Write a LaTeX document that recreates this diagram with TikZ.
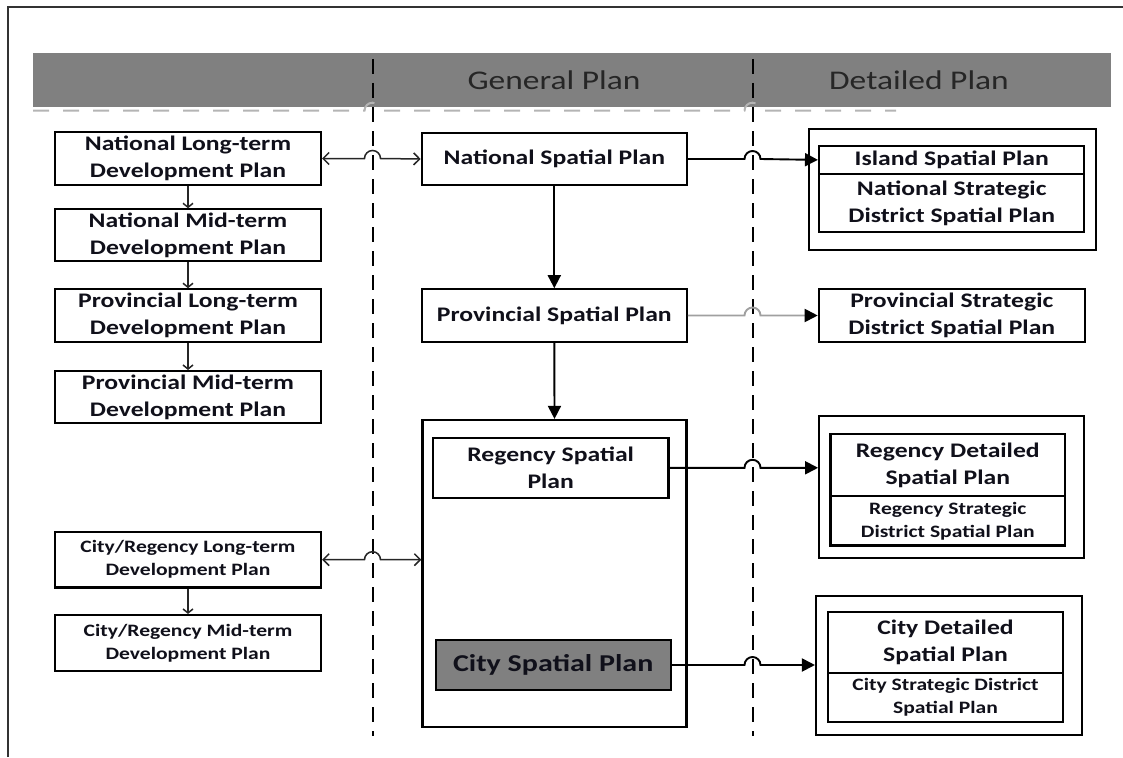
\documentclass[tikz,border=0pt]{standalone}
\usepackage{fontspec}
\setmainfont{Carlito}[FakeStretch=1.24]
\usetikzlibrary{arrows.meta,calc}

\definecolor{bandgray}{HTML}{808080}
\definecolor{headtext}{HTML}{262626}
\definecolor{inkdark}{HTML}{10101A}
\definecolor{lightline}{HTML}{A0A0A0}
\definecolor{dashgray}{HTML}{B4B4B4}

\newcommand{\boxfont}{\bfseries\fontsize{20.7}{27}\selectfont}
\newcommand{\smallboxfont}{\bfseries\fontsize{17.4}{23}\selectfont}
\newcommand{\bigboxfont}{\bfseries\fontsize{24.2}{29}\selectfont}
\newcommand{\headfont}{\fontsize{27}{32}\selectfont}

\tikzset{
  planbox/.style 2 args={draw=black, line width=2.2pt, fill=white, inner sep=0pt,
    align=center, font=\boxfont, text=inkdark, minimum width=#1, minimum height=#2},
  holder/.style 2 args={draw=black, line width=2.2pt, inner sep=0pt,
    minimum width=#1, minimum height=#2},
  headlabel/.style={font=\headfont, text=headtext},
  sepline/.style={line width=2pt, dash pattern=on 15pt off 9pt},
  sepgray/.style={dashgray, line width=2pt, dash pattern=on 16pt off 14pt},
  frameline/.style={line width=1.6pt, black!80},
  % arrows
  link/.style={line width=1.5pt, black!85, {Straight Barb[length=6pt,width=12pt]}-{Straight Barb[length=6pt,width=12pt]}},
  down/.style={line width=1.5pt, black!85, -{Straight Barb[length=4pt,width=10pt]}},
  feed/.style={line width=1.9pt, -{Triangle[length=13pt,width=13pt,black]}},
  hopover/.style={to path={-- ([xshift=-8pt]\tikztostart -| #1) arc[start angle=180,end angle=0,radius=8pt] -- (\tikztotarget)}}
}

\begin{document}
\begin{tikzpicture}[x=1pt,y=-1pt]
  \useasboundingbox (0,0) rectangle (1123,757);
  \draw[frameline] (8,757) -- (8,7) -- (1123,7); %ramme

  % header band
  \fill[bandgray] (33,53) rectangle (1111,106.7);
  \node[headlabel] (general) at (554,80) {General Plan};
  \node[headlabel] (detailed) at (919,80) {Detailed Plan};
  \draw[sepgray] (33,110.7) -- (364.5,110.7) arc[start angle=180,end angle=0,radius=8pt]
    -- (744.5,110.7) arc[start angle=180,end angle=0,radius=8pt] -- (896,110.7);

  % column separators
  \coordinate (v1) at (372.5,59);
  \coordinate (v2) at (752.5,59);
  \draw[sepline] (v1) -- (372.5,736);
  \draw[sepline] (v2) -- (752.5,736);

  % development plans
  \node[planbox={266pt}{52.3pt}] (nltdp) at (188,158.5) {National Long-term\\Development Plan};
  \node[planbox={266pt}{51.7pt}] (nmtdp) at (188,235.2) {National Mid-term\\Development Plan};
  \node[planbox={266pt}{52.4pt}] (pltdp) at (188,315.5) {Provincial Long-term\\Development Plan};
  \node[planbox={266pt}{52.3pt}] (pmtdp) at (188,397.2) {Provincial Mid-term\\Development Plan};
  \node[planbox={266pt}{55.5pt},font=\smallboxfont] (crltdp) at (188,559.7) {City/Regency Long-term\\Development Plan};
  \node[planbox={266pt}{56pt},font=\smallboxfont] (crmtdp) at (188,643) {City/Regency Mid-term\\Development Plan};

  % general plans
  \node[planbox={265pt}{52.5pt}] (nsp) at (554.3,159) {National Spatial Plan};
  \node[planbox={265pt}{52.4pt}] (psp) at (554.3,315.5) {Provincial Spatial Plan};
  \node[holder={264pt}{307pt}] (regbox) at (554.5,573.5) {};
  \node[planbox={235.4pt}{60.3pt}] (rsp) at (550.7,467.8) {Regency Spatial\\Plan};
  \node[planbox={235pt}{49.5pt},fill=bandgray,font=\bigboxfont] (csp) at (553.2,665) {City Spatial Plan};

  % detailed plans
  \node[holder={287.3pt}{120.7pt}] (islandbox) at (952.6,189.7) {};
  \node[planbox={265.3pt}{28.3pt}] (isp) at (951.7,159.9) {Island Spatial Plan};
  \node[planbox={265.3pt}{57.7pt}] (nsdsp) at (951.7,202.85) {National Strategic\\District Spatial Plan};
  \node[planbox={266pt}{52.4pt}] (psdsp) at (951.8,315.5) {Provincial Strategic\\District Spatial Plan};
  \node[holder={265pt}{141.8pt}] (regouter) at (951.7,487.1) {};
  \node[planbox={234.8pt}{62.2pt}] (rdsp) at (947.8,465.1) {Regency Detailed\\Spatial Plan};
  \node[planbox={234.8pt}{49.2pt},font=\smallboxfont] (rsdsp) at (947.8,520.8) {Regency Strategic\\District Spatial Plan};
  \node[holder={265.7pt}{139.3pt}] (cityouter) at (948.9,665.35) {};
  \node[planbox={234.5pt}{61.1pt}] (cdsp) at (945.5,642.35) {City Detailed\\Spatial Plan};
  \node[planbox={234.5pt}{49.1pt},font=\smallboxfont] (csdsp) at (945.5,697.45) {City Strategic District\\Spatial Plan};

  % vertical links
  \draw[down] (nltdp.south) -- (nmtdp.north);
  \draw[down] (nmtdp.south) -- (pltdp.north);
  \draw[down] (pltdp.south) -- (pmtdp.north);
  \draw[down] (crltdp.south) -- (crmtdp.north);
  \draw[feed] (nsp.south) -- (psp.north);
  \draw[feed] (psp.south) -- (regbox.north);

  % links across the columns
  \draw[link,hopover=v1] (nltdp.east) to (nsp.west);
  \draw[link,hopover=v1] (crltdp.east) to (crltdp.east -| regbox.west);
  \draw[feed,hopover=v2] (nsp.east) to (isp.west);
  \draw[feed,lightline,hopover=v2] (psp.east) to (psdsp.west); %grå linje
  \draw[feed,hopover=v2] (rsp.east) to (rsp.east -| regouter.west);
  \draw[feed,hopover=v2] (csp.east) to (csp.east -| cityouter.west);
\end{tikzpicture}
\end{document}
